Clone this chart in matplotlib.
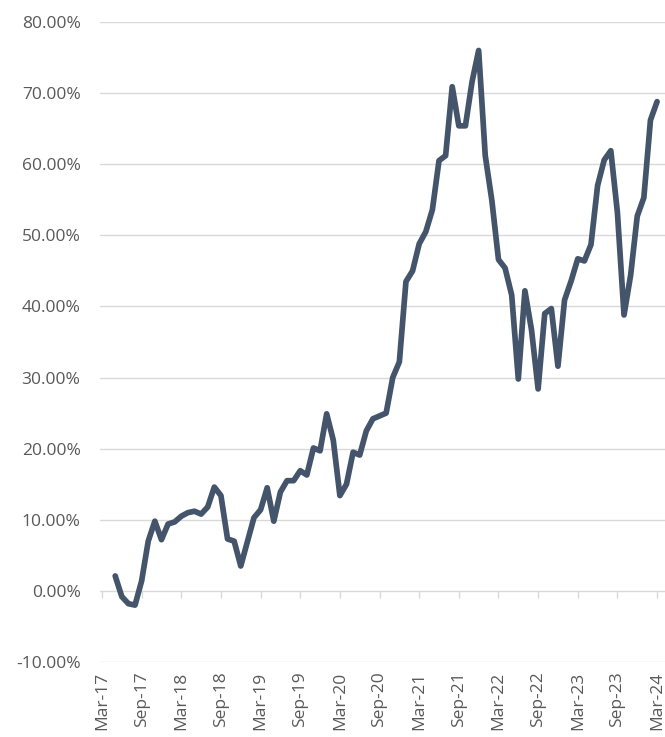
import numpy as np
from matplotlib import pyplot as plt

plt.rcParams['font.family'] = ['Open Sans', 'DejaVu Sans']

# monthly values, May-17 .. Mar-24 (percent)
months = np.arange(2, 85)  # months since Mar-17
values = [2.1, -0.8, -1.8, -2.0, 1.4, 7.0, 9.8, 7.2, 9.4, 9.7,
          10.5, 11.0, 11.2, 10.8, 11.8, 14.6, 13.4, 7.3, 7.0, 3.5,
          6.9, 10.3, 11.4, 14.5, 9.8, 13.9, 15.5, 15.5, 16.9, 16.3,
          20.1, 19.7, 24.9, 21.2, 13.4, 15.0, 19.5, 19.1, 22.5, 24.2,
          24.6, 25.0, 30.0, 32.2, 43.5, 45.0, 48.8, 50.5, 53.6, 60.5,
          61.2, 70.9, 65.4, 65.4, 71.6, 76.0, 61.2, 54.9, 46.6, 45.4,
          41.6, 29.8, 42.2, 36.7, 28.4, 39.0, 39.7, 31.6, 40.9, 43.6,
          46.7, 46.4, 48.7, 57.0, 60.6, 61.9, 53.2, 38.8, 44.4, 52.7,
          55.3, 66.2, 68.8]

tick_pos = np.arange(0, 85, 6)
tick_labels = ['Mar-17', 'Sep-17', 'Mar-18', 'Sep-18', 'Mar-19', 'Sep-19', 'Mar-20',
               'Sep-20', 'Mar-21', 'Sep-21', 'Mar-22', 'Sep-22', 'Mar-23', 'Sep-23', 'Mar-24']
y_ticks = np.arange(-10, 81, 10)

grid_col = '#d9d9d9'
text_col = '#595959'

fig = plt.figure(figsize=(6.65, 7.37), dpi=100)
ax = fig.add_axes([100 / 665, 75 / 737, 565 / 665, 640 / 737])

for y in y_ticks:
    ax.axhline(y, color=grid_col, lw=1.0, zorder=1)

ax.plot(months, values, color='#44546a', lw=4.1, solid_joinstyle='round',
        solid_capstyle='round', zorder=3)

ax.set_xlim(-0.3, 85.2)
ax.set_ylim(-10, 80)
ax.set_yticks(y_ticks)
ax.set_yticklabels([f'{v:.2f}%' for v in y_ticks])
ax.set_xticks(tick_pos)
ax.set_xticklabels(tick_labels, rotation=90)
ax.tick_params(axis='y', length=0, pad=14, labelsize=12.5, labelcolor=text_col)
ax.tick_params(axis='x', length=0, pad=7, labelsize=12.5, labelcolor=text_col)
for s in ax.spines.values():
    s.set_visible(False)

# small tick marks on the zero line
sec = ax.secondary_xaxis(10 / 90)
sec.set_xticks(tick_pos)
sec.set_xticklabels([])
sec.tick_params(length=5, width=1.0, color=grid_col, direction='out')
for s in sec.spines.values():
    s.set_visible(False)

fig.savefig('out.png', dpi=100)
